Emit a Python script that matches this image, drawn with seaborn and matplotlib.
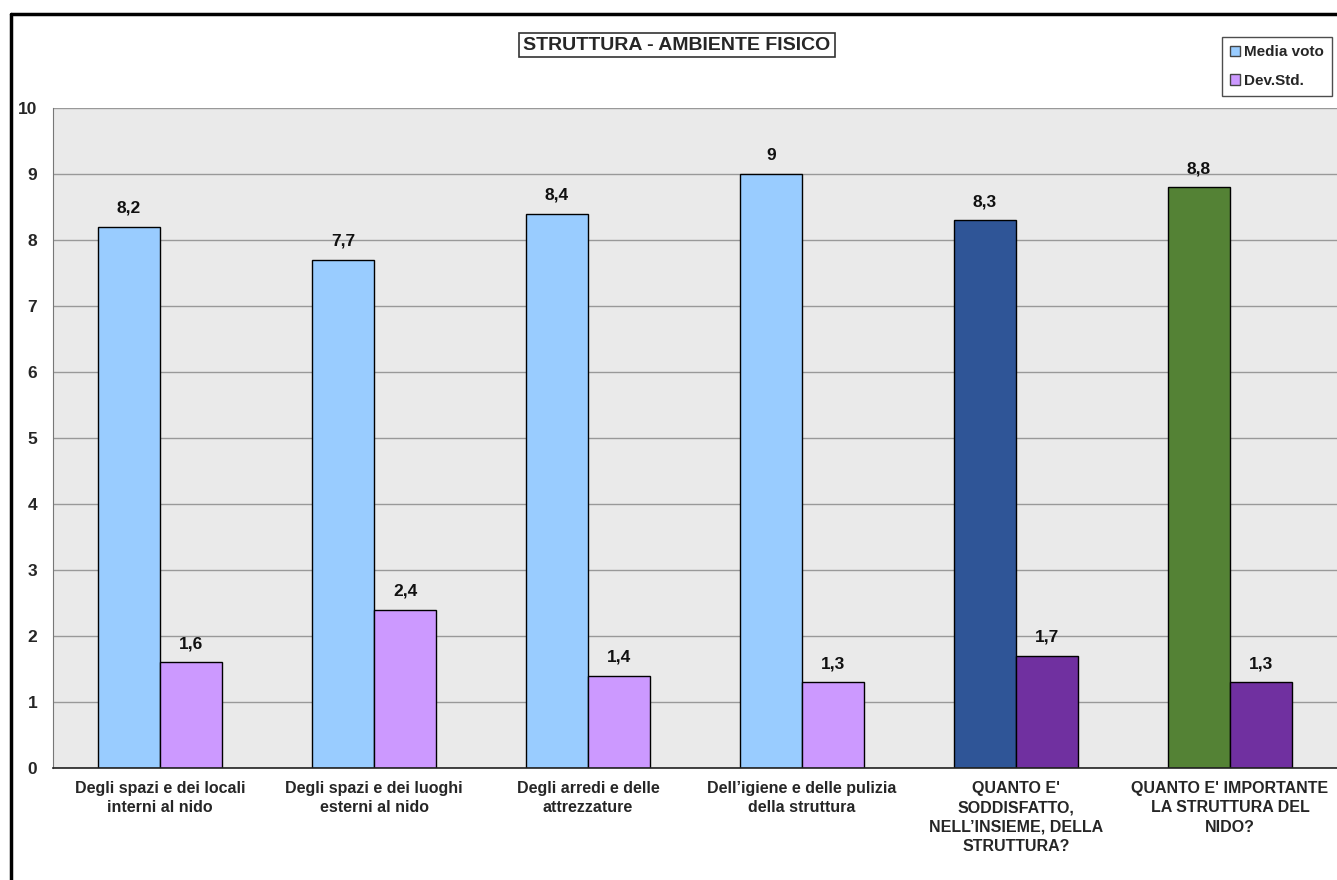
import matplotlib
matplotlib.use("Agg")
import matplotlib.pyplot as plt
import seaborn as sns
import pandas as pd
import numpy as np
from matplotlib.patches import Patch
from matplotlib.lines import Line2D

categories = [
    "Degli spazi e dei locali\ninterni al nido",
    "Degli spazi e dei luoghi\nesterni al nido",
    "Degli arredi e delle\nattrezzature",
    "Dell\u2019igiene e delle pulizia\ndella struttura",
    "QUANTO E'\nSODDISFATTO,\nNELL\u2019INSIEME, DELLA\nSTRUTTURA?",
    "QUANTO E' IMPORTANTE\nLA STRUTTURA DEL\nNIDO?",
]
media_voto = [8.2, 7.7, 8.4, 9.0, 8.3, 8.8]
dev_std = [1.6, 2.4, 1.4, 1.3, 1.7, 1.3]
series = ["Media voto", "Dev.Std."]

media_colors = ["#99CCFF", "#99CCFF", "#99CCFF", "#99CCFF", "#2F5597", "#548235"]
dev_colors = ["#CC99FF", "#CC99FF", "#CC99FF", "#CC99FF", "#7030A0", "#7030A0"]

df = pd.DataFrame({
    "cat": categories * 2,
    "serie": [series[0]] * len(categories) + [series[1]] * len(categories),
    "val": media_voto + dev_std,
})

sns.set_style("white")
plt.rcParams["font.family"] = ["Liberation Sans", "DejaVu Sans"]
plt.rcParams["font.weight"] = "bold"

fig = plt.figure(figsize=(13.37, 8.8), dpi=100)
ax = fig.add_axes([53 / 1337, 112 / 880, (1337 - 53) / 1337, 660 / 880])

sns.barplot(data=df, x="cat", y="val", hue="serie", order=categories,
            hue_order=series, width=0.58, ax=ax, edgecolor="black",
            linewidth=1.0, legend=False, saturation=1)

bars = [p for p in ax.patches]
for i, p in enumerate(bars[:len(categories)]):
    p.set_facecolor(media_colors[i])
for i, p in enumerate(bars[len(categories):2 * len(categories)]):
    p.set_facecolor(dev_colors[i])

def fmt(v):
    s = ("%.1f" % v).replace(".", ",")
    if s.endswith(",0"):
        s = s[:-2]
    return s

for p in bars[:2 * len(categories)]:
    h = p.get_height()
    ax.annotate(fmt(h), (p.get_x() + p.get_width() / 2, h), xytext=(0, 8),
                textcoords="offset points", ha="center", va="bottom",
                fontsize=12.5, fontweight="bold", color="#111111")

ax.set_facecolor("#EAEAEA")
ax.set_xlim(-0.5, len(categories) - 0.5)
ax.set_ylim(0, 10)
ax.set_yticks(range(0, 11))
ax.yaxis.grid(True, color="#999999", linewidth=1.0)
ax.set_axisbelow(True)
ax.set_xlabel("")
ax.set_ylabel("")
for s in ["top", "right"]:
    ax.spines[s].set_visible(False)
ax.spines["left"].set_color("#777777")
ax.spines["bottom"].set_color("#222222")
ax.spines["bottom"].set_linewidth(1.2)

ax.set_xticks(np.arange(len(categories)))
ax.set_xticklabels(categories, fontsize=11.5, fontweight="bold", linespacing=1.38)
ax.tick_params(axis="x", length=0, pad=9)
ax.set_xticks(np.arange(len(categories)) - 0.5, minor=True)
ax.tick_params(axis="x", which="minor", length=4.3, color="#222222", direction="out")
ax.tick_params(axis="y", length=4.3, color="#777777", direction="out", pad=7,
               labelsize=12.5)
for t in ax.get_yticklabels():
    t.set_fontweight("bold")

fig.text(677 / 1337, 1 - 45 / 880, "STRUTTURA - AMBIENTE FISICO", ha="center",
         va="center", fontsize=14, fontweight="bold",
         bbox=dict(boxstyle="square,pad=0.2", fc="white", ec="#333333", lw=1.2))

handles = [Patch(facecolor=media_colors[0], edgecolor="#444444", label=series[0]),
           Patch(facecolor=dev_colors[0], edgecolor="#444444", label=series[1])]
leg = fig.legend(handles=handles, loc="upper left",
                 bbox_to_anchor=(1222 / 1337, 1 - 37 / 880),
                 frameon=True, fancybox=False, fontsize=11,
                 handlelength=0.65, handleheight=0.65, handletextpad=0.25,
                 labelspacing=0.95, borderpad=0.55, borderaxespad=0)
leg.get_frame().set_edgecolor("#222222")
leg.get_frame().set_linewidth(1.0)
for t in leg.get_texts():
    t.set_fontweight("bold")

fig.add_artist(Line2D([11.5 / 1337, 11.5 / 1337], [-0.01, 1 - 14 / 880],
                      transform=fig.transFigure, color="black", lw=2.5))
fig.add_artist(Line2D([11.5 / 1337, 1.01], [1 - 14 / 880, 1 - 14 / 880],
                      transform=fig.transFigure, color="black", lw=2.5))

fig.savefig("out.png", dpi=100)
